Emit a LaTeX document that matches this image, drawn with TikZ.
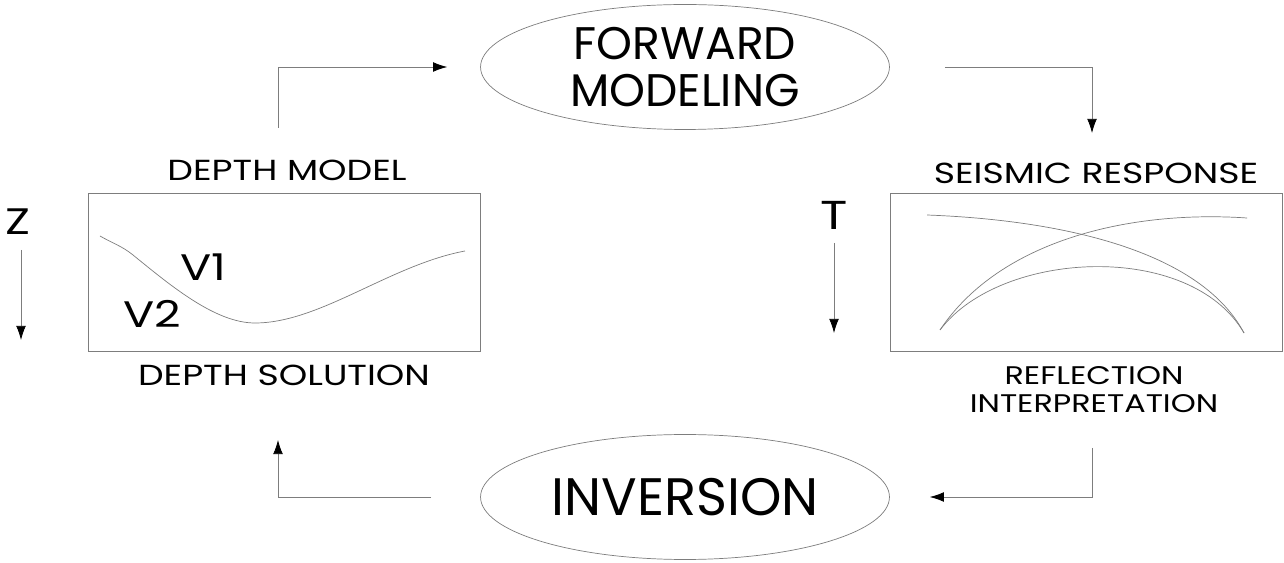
\documentclass[tikz,border=0pt]{standalone}
\usepackage{fontspec}
\setmainfont{Poppins}
\newfontfamily\widefont{Poppins}[FakeStretch=1.25]
\usepackage{tikz}
\usetikzlibrary{shapes.geometric, arrows.meta, positioning}
\definecolor{linegray}{RGB}{125,125,125}

\begin{document}
\begin{tikzpicture}[
  x=0.02cm, y=-0.02cm,
  every node/.style={font=\fontsize{16}{19}\selectfont, inner sep=0pt},
  oval/.style={ellipse, draw=linegray, thin, minimum width=8.18cm, minimum height=2.5cm, align=center},
  panel/.style={rectangle, draw=linegray, thin, minimum width=7.84cm, minimum height=3.16cm},
  arrow/.style={-{Latex[length=8pt, width=5.5pt, color=black]}, draw=linegray, thin},
  caption/.style={font=\widefont\fontsize{16.5}{15.9}\selectfont, align=center},
  biglabel/.style={font=\widefont\fontsize{21}{24}\selectfont},
  curve/.style={draw=linegray, thin},
]
  \useasboundingbox (0,0) rectangle (1284,563);

  % the two process ellipses
  \node[oval, font=\fontsize{26}{27}\selectfont] (fwd) at (685,67) {FORWARD\\MODELING};
  \node[oval, font=\fontsize{30}{30}\selectfont] (inv) at (685,497) {INVERSION};

  % depth model panel
  \node[panel] (depth) at (284,272) {};
  \node[caption] (dmodel) at (287,170) {DEPTH MODEL};
  \node[caption] (dsol) at (284,375) {DEPTH SOLUTION};
  \node[biglabel] (zlab) at (18,222) {Z};
  \coordinate (ztop) at (21,250);
  \coordinate (zend) at (21,340);
  \draw[arrow] (ztop) -- (zend);
  \draw[curve] (100,236) .. controls (112,243) and (122,246) .. (133,255)
    .. controls (170,285) and (215,323) .. (255,323)
    .. controls (320,323) and (390,265) .. (465,251);
  \node[biglabel] (vone) at (203,267) {V1};
  \node[biglabel] (vtwo) at (152,314) {V2};

  % seismic response panel
  \node[panel] (seis) at (1086,272) {};
  \node[caption] (sresp) at (1096,173) {SEISMIC RESPONSE};
  \node[caption, font=\widefont\fontsize{14.5}{15.9}\selectfont] (refl) at (1094,390) {REFLECTION\\INTERPRETATION};
  \node[biglabel, font=\widefont\fontsize{23}{26}\selectfont] (tlab) at (834,215) {T};
  \coordinate (ttop) at (834,243);
  \coordinate (tend) at (834,333);
  \draw[arrow] (ttop) -- (tend);
  \draw[curve] (927,215) .. controls (1060,220) and (1200,250) .. (1244,333);
  \draw[curve] (940,330) .. controls (1000,240) and (1130,210) .. (1247,218);
  \draw[curve] (940,330) .. controls (1000,250) and (1190,240) .. (1244,333);

  % the loop
  \coordinate (tl) at (278,128);
  \coordinate (tr) at (1092,133);
  \coordinate (br) at (1092,448);
  \coordinate (bl) at (278,440);
  \draw[arrow] (tl) |- ([xshift=-0.66cm]fwd.west);
  \draw[arrow] ([xshift=1.1cm]fwd.east) -| (tr);
  \draw[arrow] (br) |- ([xshift=0.8cm]inv.east);
  \draw[arrow] ([xshift=-0.98cm]inv.west) -| (bl);
\end{tikzpicture}
\end{document}
